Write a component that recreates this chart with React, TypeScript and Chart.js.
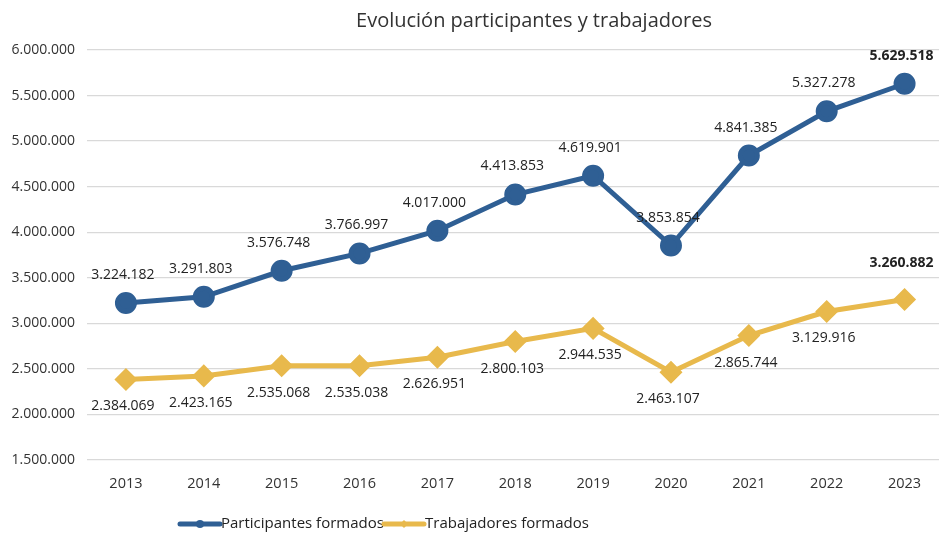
import React, { useEffect, useRef } from "react";
import { Chart, registerables } from "chart.js";

Chart.register(...registerables);

const years = ["2013", "2014", "2015", "2016", "2017", "2018", "2019", "2020", "2021", "2022", "2023"];
const participantes = [3224182, 3291803, 3576748, 3766997, 4017000, 4413853, 4619901, 3853854, 4841385, 5327278, 5629518];
const trabajadores = [2384069, 2423165, 2535068, 2535038, 2626951, 2800103, 2944535, 2463107, 2865744, 3129916, 3260882];
const seriesNames = ["Participantes formados", "Trabajadores formados"];
const titleText = "Evolución participantes y trabajadores";

const BLUE = "#2f5f94";
const YELLOW = "#e8b94c";
const FONT = "'Open Sans', sans-serif";
const CW = 957;
const CH = 535;

const fmt = (v: number) => Math.round(v).toString().replace(/\B(?=(\d{3})+(?!\d))/g, ".");

const overlay = {
  id: "overlay",
  afterDatasetsDraw(chart: any) {
    const ctx = chart.ctx;
    ctx.save();
    ctx.textAlign = "center";
    ctx.textBaseline = "middle";
    ctx.fillStyle = "#222";
    chart.data.datasets.forEach((ds: any, di: number) => {
      const meta = chart.getDatasetMeta(di);
      meta.data.forEach((pt: any, i: number) => {
        const last = i === ds.data.length - 1;
        ctx.font = (last ? "bold " : "") + "14px " + FONT;
        let dy: number;
        if (di === 0) dy = -28;
        else dy = last ? -37 : 27;
        ctx.fillText(fmt(ds.data[i]), pt.x - 3, pt.y + dy);
      });
    });
    // title
    ctx.font = "20px " + FONT;
    ctx.fillStyle = "#333";
    ctx.fillText(titleText, 534, 21);
    // legend
    const items = [
      { c: BLUE, x: 180, circle: true },
      { c: YELLOW, x: 384, circle: false },
    ];
    ctx.textAlign = "left";
    ctx.font = "15px " + FONT;
    items.forEach((it, k) => {
      const y = 524;
      ctx.strokeStyle = it.c;
      ctx.lineWidth = 5;
      ctx.lineCap = "round";
      ctx.beginPath();
      ctx.moveTo(it.x, y);
      ctx.lineTo(it.x + 40, y);
      ctx.stroke();
      ctx.fillStyle = it.c;
      ctx.beginPath();
      if (it.circle) {
        ctx.arc(it.x + 20, y, 4, 0, Math.PI * 2);
      } else {
        ctx.moveTo(it.x + 20, y - 4);
        ctx.lineTo(it.x + 24, y);
        ctx.lineTo(it.x + 20, y + 4);
        ctx.lineTo(it.x + 16, y);
        ctx.closePath();
      }
      ctx.fill();
      ctx.fillStyle = "#222";
      ctx.fillText(seriesNames[k], it.x + 41, y);
    });
    ctx.restore();
  },
};

export default function App() {
  const ref = useRef<HTMLCanvasElement>(null);
  useEffect(() => {
    document.body.style.margin = "0";
    const chart = new Chart(ref.current!, {
      type: "line",
      data: {
        labels: years,
        datasets: [
          {
            label: seriesNames[0],
            data: participantes,
            borderColor: BLUE,
            backgroundColor: BLUE,
            borderWidth: 5,
            pointStyle: "circle",
            pointRadius: 8.5,
            pointHoverRadius: 8.5,
            tension: 0,
          },
          {
            label: seriesNames[1],
            data: trabajadores,
            borderColor: YELLOW,
            backgroundColor: YELLOW,
            borderWidth: 5,
            pointStyle: "rectRot",
            pointRadius: 8,
            pointHoverRadius: 8,
            tension: 0,
          },
        ],
      },
      options: {
        animation: false,
        responsive: false,
        layout: { padding: { top: 50, left: 7, right: 0, bottom: 0 } },
        plugins: { legend: { display: false }, title: { display: false }, tooltip: { enabled: false } },
        scales: {
          x: {
            offset: true,
            grid: { display: false },
            border: { display: false },
            ticks: { color: "#333", font: { size: 14.5, family: FONT }, padding: 7 },
            afterFit: (s: any) => { s.height = 75; },
          },
          y: {
            min: 1500000,
            max: 6000000,
            grid: { color: "#d9d9d9", lineWidth: 1.3, drawTicks: false },
            border: { display: false },
            ticks: { stepSize: 500000, color: "#333", font: { size: 14, family: FONT }, padding: 12, callback: (v: any) => fmt(Number(v)) },
            afterFit: (s: any) => { s.width = 80; },
          },
        },
      },
      plugins: [overlay],
    });
    return () => chart.destroy();
  }, []);
  return (
    <div style={{ position: "absolute", left: 0, top: 0, width: 939, height: CH, overflow: "hidden", background: "#fff" }}>
      <canvas ref={ref} width={CW} height={CH} style={{ width: CW, height: CH }} />
    </div>
  );
}
